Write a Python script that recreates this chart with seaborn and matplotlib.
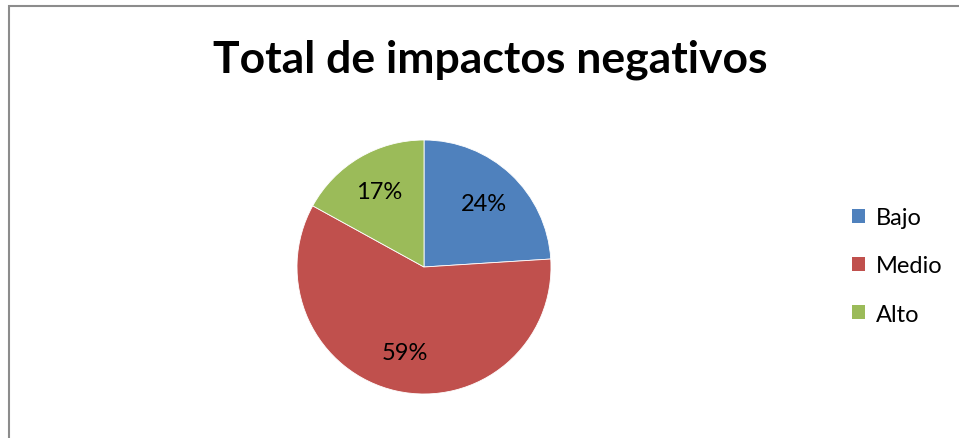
import matplotlib as mpl
mpl.use('Agg')
import matplotlib.pyplot as plt
import seaborn as sns
from matplotlib.patches import Rectangle, Patch

categories = ['Bajo', 'Medio', 'Alto']
values = [24, 59, 17]
title = 'Total de impactos negativos'
colors = ['#4F81BD', '#C0504D', '#9BBB59']

sns.set_theme(style='white')
plt.rcParams['font.family'] = ['Lato', 'DejaVu Sans']
plt.rcParams['text.color'] = 'black'

W, H = 959, 439
fig = plt.figure(figsize=(W / 100, H / 100), dpi=100)
fig.patch.set_facecolor('white')

# chart frame (cut at right and bottom edges like the screenshot)
fig.add_artist(Rectangle((9 / W, -0.05), 1.1, (H - 7) / H + 0.05, transform=fig.transFigure,
                         fill=False, edgecolor='#8c8c8c', linewidth=1.5))

# pie axes: centre (424, 268), radius 127 px
cx, cy, r = 424, H - 268, 127
ax = fig.add_axes([(cx - r) / W, (cy - r) / H, 2 * r / W, 2 * r / H])
wedges, texts, autotexts = ax.pie(values, colors=colors, startangle=90, counterclock=False,
                                  autopct='%1.0f%%', pctdistance=0.69,
                                  wedgeprops=dict(edgecolor='white', linewidth=0.6),
                                  textprops=dict(fontsize=17, color='black'))
ax.set_xlim(-1, 1)
ax.set_ylim(-1, 1)
ax.set_aspect('equal')

fig.text(490 / W, 1 - 60 / H, title, ha='center', va='center', fontsize=32,
         fontweight='bold', color='black')

handles = [Patch(facecolor=c, edgecolor='none') for c in colors]
fig.legend(handles, categories, loc='center left', bbox_to_anchor=(831 / W, 1 - 267 / H),
           frameon=False, fontsize=17, handlelength=0.55, handleheight=0.55,
           handletextpad=0.45, labelspacing=1.15, labelcolor='black')

plt.savefig('out.png', dpi=100)
